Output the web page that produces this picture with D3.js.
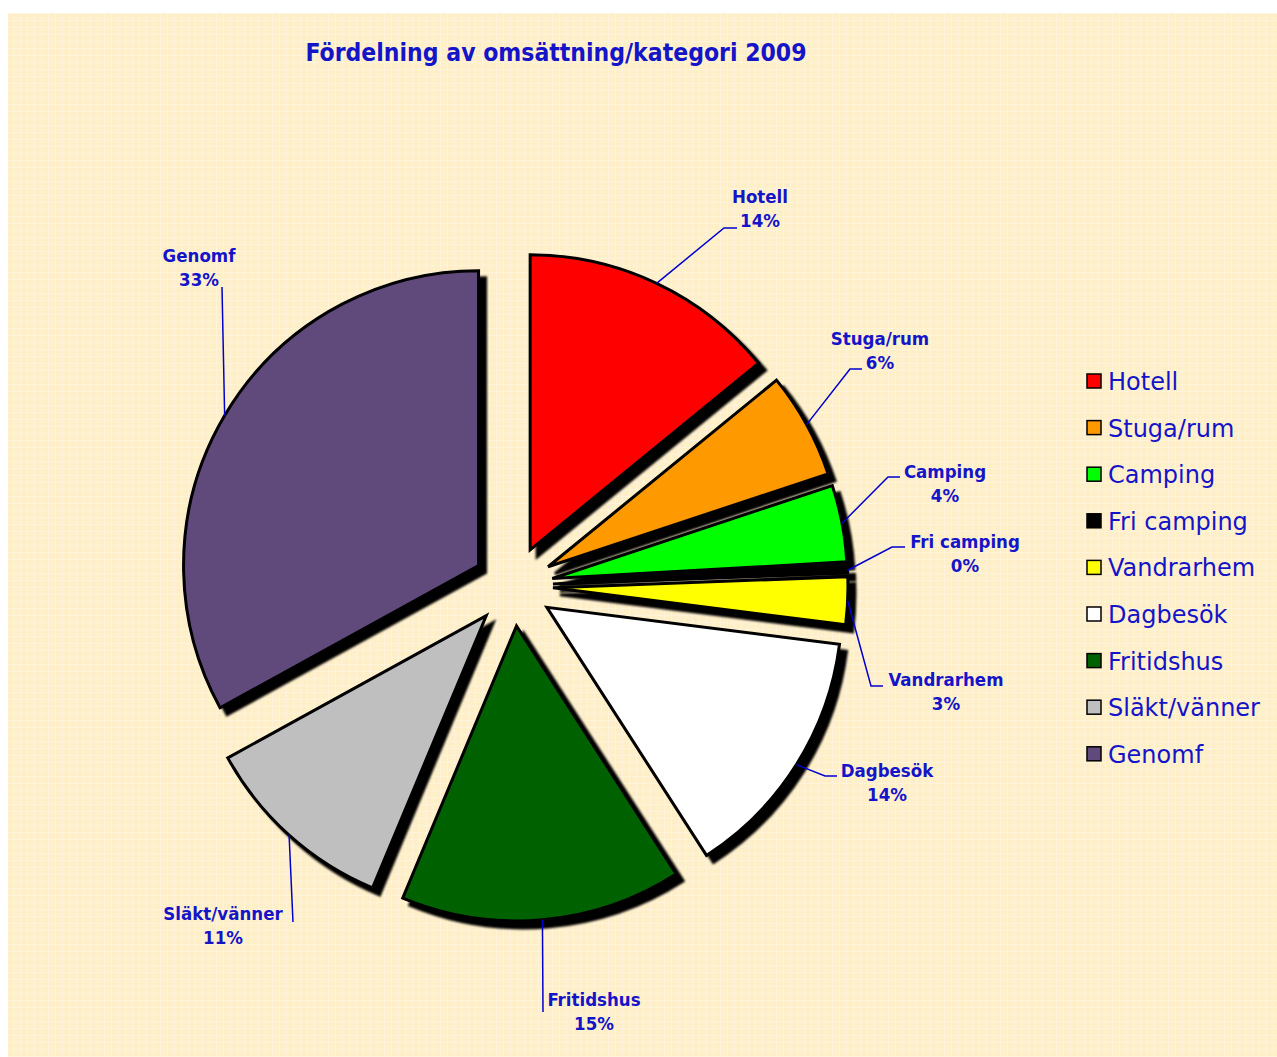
<!DOCTYPE html>
<html>
<head>
<meta charset="utf-8">
<script src="https://cdn.jsdelivr.net/npm/d3@7"></script>
<style>
  body { margin: 0; background: #fff; }
  svg { display: block; }
</style>
</head>
<body>
<div id="chart"></div>
<script>
// Chart data
var categories = ["Hotell", "Stuga/rum", "Camping", "Fri camping", "Vandrarhem", "Dagbesök", "Fritidshus", "Släkt/vänner", "Genomf"];
var values = [14.1, 5.8, 4.2, 0.3, 2.6, 13.9, 15.4, 10.7, 33.0];
var colors = ["#FF0000", "#FF9900", "#00FF00", "#000000", "#FFFF00", "#FFFFFF", "#006100", "#BFBFBF", "#604A7B"];

// Chart params
var svgWidth = 1277;
var svgHeight = 1057;
var textColor = "#1414c8";
var cx = 513, cy = 586;
var radius = 295;
var explode = 40;

// where Excel put each data label (centre of first line) and the bend of its leader
var labelLayout = [
    { x: 760, y: 196, bend: [724, 228], tick: 13 },
    { x: 880, y: 338, bend: [850, 369], tick: 12 },
    { x: 945, y: 471, bend: [888, 477], tick: 12 },
    { x: 965, y: 541, bend: [892, 547], tick: 13 },
    { x: 946, y: 679, bend: [871, 686], tick: 12 },
    { x: 887, y: 770, bend: [825, 776], tick: 12 },
    { x: 594, y: 999, bend: [543, 1012], tick: 0 },
    { x: 223, y: 913, bend: [293, 922], tick: 0 },
    { x: 199, y: 255, bend: [222, 287], tick: 0 }
];

var svg = d3.select("#chart")
    .append("svg")
    .attr("width", svgWidth)
    .attr("height", svgHeight);

var defs = svg.append("defs");

// background texture
var pat = defs.append("pattern")
    .attr("id", "bgpat")
    .attr("patternUnits", "userSpaceOnUse")
    .attr("width", 7)
    .attr("height", 7);
pat.append("rect").attr("width", 7).attr("height", 7).attr("fill", "#FFEFC9");
pat.append("rect").attr("x", 6).attr("width", 1).attr("height", 7).attr("fill", "#FFF4DA");
pat.append("rect").attr("y", 6).attr("width", 7).attr("height", 1).attr("fill", "#FFF4DA");

var blur = defs.append("filter").attr("id", "shadowBlur")
    .attr("x", "-10%").attr("y", "-10%").attr("width", "120%").attr("height", "120%");
blur.append("feGaussianBlur").attr("stdDeviation", 0.9);

svg.append("rect")
    .attr("x", 8).attr("y", 13)
    .attr("width", svgWidth - 8).attr("height", svgHeight - 13)
    .attr("fill", "url(#bgpat)");

// Title
svg.append("text")
    .attr("x", 556)
    .attr("y", 61)
    .attr("text-anchor", "middle")
    .attr("font-family", "DejaVu Sans Condensed, DejaVu Sans, sans-serif")
    .attr("font-weight", "bold")
    .attr("font-size", 24.5)
    .attr("fill", textColor)
    .text("Fördelning av omsättning/kategori 2009");

// Pie
var pie = d3.pie().sort(null).value(d => d);
var arcs = pie(values);
var total = d3.sum(values);

var arc = d3.arc().innerRadius(0).outerRadius(radius);
var edgeArc = d3.arc().innerRadius(radius + explode).outerRadius(radius + explode);

function midAngle(d) { return (d.startAngle + d.endAngle) / 2; }
function shift(d) {
    var a = midAngle(d);
    return [explode * Math.sin(a), -explode * Math.cos(a)];
}

var pieGroup = svg.append("g")
    .attr("transform", `translate(${cx}, ${cy})`);

// shadows under everything
pieGroup.selectAll(".shadow")
    .data(arcs)
    .enter()
    .append("path")
    .attr("class", "shadow")
    .attr("d", arc)
    .attr("transform", d => { var s = shift(d); return `translate(${s[0] + 7}, ${s[1] + 7})`; })
    .attr("fill", "#000")
    .attr("stroke", "#000")
    .attr("stroke-width", 3)
    .attr("filter", "url(#shadowBlur)");

pieGroup.selectAll(".slice")
    .data(arcs)
    .enter()
    .append("path")
    .attr("class", "slice")
    .attr("d", arc)
    .attr("transform", d => { var s = shift(d); return `translate(${s[0]}, ${s[1]})`; })
    .attr("fill", (d, i) => colors[i])
    .attr("stroke", "#000")
    .attr("stroke-width", 3)
    .attr("stroke-linejoin", "miter");

// Leader lines
var leaderGroup = svg.append("g");
arcs.forEach(function(d, i) {
    var p = edgeArc.centroid(d);
    var L = labelLayout[i];
    var pts = [[cx + p[0], cy + p[1]], L.bend];
    if (L.tick) pts.push([L.bend[0] + L.tick, L.bend[1]]);
    leaderGroup.append("path")
        .attr("d", d3.line()(pts))
        .attr("fill", "none")
        .attr("stroke", "#0000d0")
        .attr("stroke-width", 1.5);
});

// Data labels
var labelGroup = svg.append("g")
    .attr("font-family", "DejaVu Sans Condensed, DejaVu Sans, sans-serif")
    .attr("font-weight", "bold")
    .attr("font-size", 18.5)
    .attr("fill", textColor)
    .attr("text-anchor", "middle");

labelGroup.selectAll("text")
    .data(arcs)
    .enter()
    .append("text")
    .attr("x", (d, i) => labelLayout[i].x)
    .attr("y", (d, i) => labelLayout[i].y + 7)
    .each(function(d, i) {
        var t = d3.select(this);
        t.append("tspan").text(categories[i]);
        t.append("tspan")
            .attr("x", labelLayout[i].x)
            .attr("dy", 24)
            .text(Math.round(d.data / total * 100) + "%");
    });

// Legend
var legend = svg.append("g")
    .attr("transform", "translate(1087, 381)");

var rows = legend.selectAll("g")
    .data(categories)
    .enter()
    .append("g")
    .attr("transform", (d, i) => `translate(0, ${i * 46.6})`);

rows.append("rect")
    .attr("x", 0).attr("y", -7)
    .attr("width", 14).attr("height", 14)
    .attr("fill", (d, i) => colors[i])
    .attr("stroke", "#000")
    .attr("stroke-width", 1.5);

rows.append("text")
    .attr("x", 21)
    .attr("y", 9)
    .attr("font-family", "DejaVu Sans, sans-serif")
    .attr("font-size", 24)
    .attr("fill", textColor)
    .text(d => d);
</script>
</body>
</html>
